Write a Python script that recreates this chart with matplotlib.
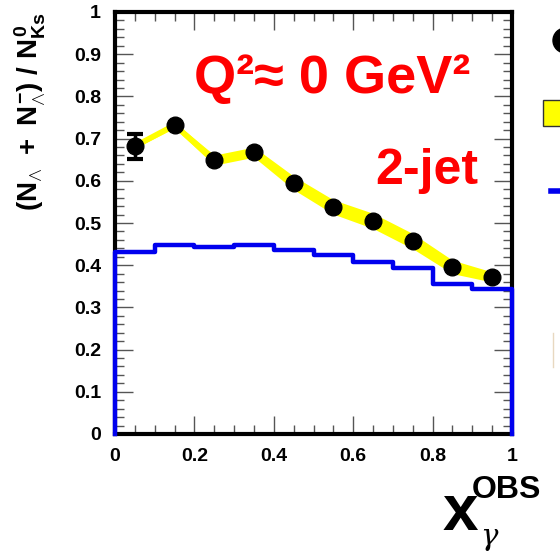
import matplotlib
matplotlib.use("Agg")
import matplotlib.pyplot as plt
from matplotlib.ticker import MultipleLocator
from matplotlib.patches import Rectangle
from matplotlib.lines import Line2D
import numpy as np

plt.rcParams['font.family'] = ['Liberation Sans', 'DejaVu Sans']
plt.rcParams['mathtext.fontset'] = 'custom'
plt.rcParams['mathtext.rm'] = 'Liberation Sans:bold'
plt.rcParams['mathtext.it'] = 'Liberation Sans:bold'
plt.rcParams['mathtext.bf'] = 'Liberation Sans:bold'

# Measured ratio in bins of x_gamma^OBS
x_centers = [0.05, 0.15, 0.25, 0.35, 0.45, 0.55, 0.65, 0.75, 0.85, 0.95]
ratio = [0.682, 0.732, 0.649, 0.668, 0.595, 0.538, 0.505, 0.457, 0.396, 0.372]
stat_err = [0.030, 0.0, 0.0, 0.0, 0.0, 0.0, 0.0, 0.0, 0.0, 0.0]
syst_err = [0.005, 0.007, 0.012, 0.012, 0.016, 0.017, 0.018, 0.018, 0.016, 0.012]

# Monte Carlo prediction, histogram with bins of 0.1
mc_edges = [0.0, 0.1, 0.2, 0.3, 0.4, 0.5, 0.6, 0.7, 0.8, 0.9, 1.0]
mc_values = [0.431, 0.448, 0.443, 0.448, 0.436, 0.424, 0.408, 0.393, 0.355, 0.343]

W, H = 560, 552
fig = plt.figure(figsize=(W / 100, H / 100), dpi=100)
ax = fig.add_axes([115 / W, 1 - 434 / H, (512 - 115) / W, (434 - 12) / H])

xc = np.array(x_centers)
r = np.array(ratio)
s = np.array(syst_err)
e = np.array(stat_err)
ax.fill_between(xc, r - s, r + s, color='#ffff00', lw=0, zorder=2)
ax.plot(xc, r, color='#ffff00', lw=4, zorder=2, solid_capstyle='butt')

# MC histogram outline, closed down to zero at both ends
hx = [mc_edges[0]]
hy = [0.0]
for i, v in enumerate(mc_values):
    hx += [mc_edges[i], mc_edges[i + 1]]
    hy += [v, v]
hx.append(mc_edges[-1])
hy.append(0.0)
ax.plot(hx, hy, color='#0000ee', lw=3.2, zorder=5, clip_on=False)

has_err = e > 0
ax.errorbar(xc[has_err], r[has_err], yerr=e[has_err], fmt='none', ecolor='black',
            elinewidth=2.5, capsize=6, capthick=3, zorder=6)
ax.plot(xc, r, 'o', color='black', ms=12, zorder=7)

ax.set_xlim(0, 1)
ax.set_ylim(0, 1)
ax.xaxis.set_major_locator(MultipleLocator(0.2))
ax.xaxis.set_minor_locator(MultipleLocator(0.05))
ax.yaxis.set_major_locator(MultipleLocator(0.1))
ax.yaxis.set_minor_locator(MultipleLocator(0.02))
ax.set_xticks([0, 0.2, 0.4, 0.6, 0.8, 1.0])
ax.set_xticklabels(['0', '0.2', '0.4', '0.6', '0.8', '1'])
ax.set_yticks([0, 0.1, 0.2, 0.3, 0.4, 0.5, 0.6, 0.7, 0.8, 0.9, 1.0])
ax.set_yticklabels(['0', '0.1', '0.2', '0.3', '0.4', '0.5', '0.6', '0.7', '0.8', '0.9', '1'])
ax.tick_params(which='both', direction='in', top=True, right=True, color='#555555', width=1)
ax.tick_params(which='major', length=13)
ax.tick_params(which='minor', length=6.5)
ax.tick_params(axis='both', which='major', labelsize=14, pad=10)
for lab in ax.get_xticklabels() + ax.get_yticklabels():
    lab.set_fontweight('bold')
for sp in ax.spines.values():
    sp.set_linewidth(3)
    sp.set_zorder(4)

ax.text(0.547, 0.808, 'Q²≈ 0 GeV²', transform=ax.transAxes, color='#ff0000',
        fontsize=39, fontweight='bold', ha='center', va='baseline')
ax.text(0.915, 0.592, '2-jet', transform=ax.transAxes, color='#ff0000',
        fontsize=36, fontweight='bold', ha='right', va='baseline')

# y-axis title
fig.text(30 / W, 1 - 12 / H, r'$(N_{\wedge}\ +\ N_{\wedge}^{-})\ /\ N_{Ks}^{0}$',
         rotation=90, ha='center', va='top', fontsize=20)

# x-axis title
fig.text(443 / W, 1 - 530 / H, 'x', fontsize=46, fontweight='bold', ha='left', va='baseline')
fig.text(472 / W, 1 - 498 / H, 'OBS', fontsize=23, fontweight='bold', ha='left', va='baseline')
fig.text(480 / W, 1 - 545 / H, 'γ', fontsize=21, family=['DejaVu Serif'], style='italic',
         ha='left', va='baseline')

# legend entries at the right edge
fig.add_artist(Line2D([565 / W], [1 - 40 / H], marker='o', ms=18, color='black',
                      transform=fig.transFigure))
fig.add_artist(Rectangle((543 / W, 1 - 126 / H), 25 / W, 26 / H, facecolor='#ffff00',
                         edgecolor='#333333', lw=1, transform=fig.transFigure))
fig.add_artist(Line2D([551 / W, 565 / W], [1 - 191 / H, 1 - 191 / H], color='#0000ee',
                      lw=4, transform=fig.transFigure))
fig.add_artist(Line2D([553 / W, 553 / W], [1 - 333 / H, 1 - 367 / H], color='#e8d8c0',
                      lw=1, transform=fig.transFigure))

fig.savefig('out.png', dpi=100)
